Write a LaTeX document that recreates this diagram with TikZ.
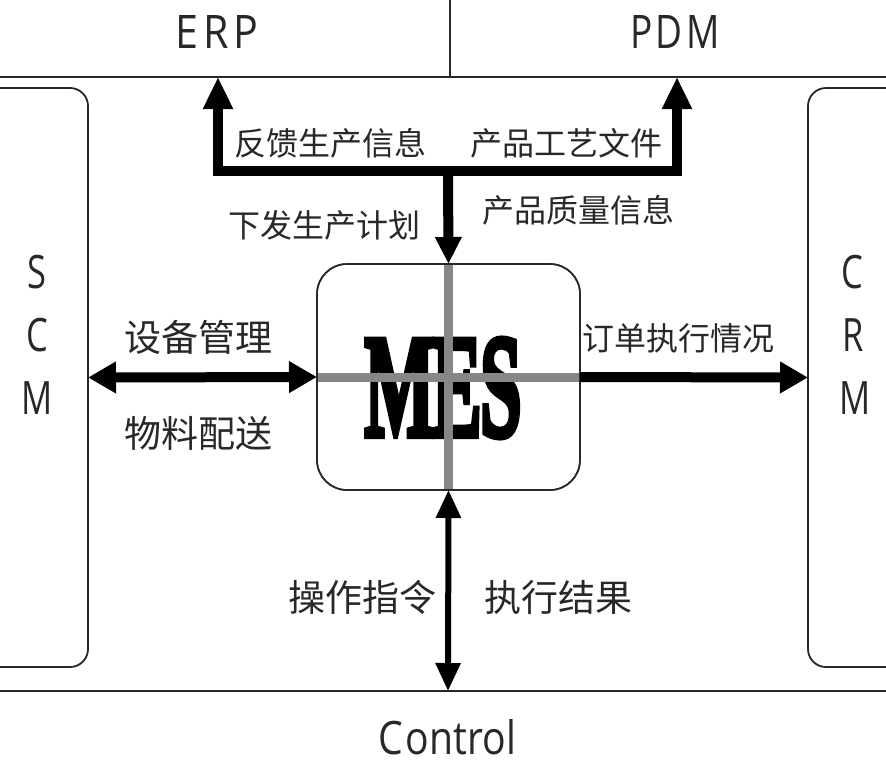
\documentclass[tikz,border=0pt]{standalone}
\usepackage{fontspec}
\setmainfont{Open Sans}
\newfontfamily\cjk{Noto Sans CJK SC}
\newfontfamily\mesfont[FakeBold=4.5]{Liberation Serif}
\usetikzlibrary{arrows.meta}
\definecolor{ink}{RGB}{40,40,40}
\definecolor{crossgrey}{RGB}{135,135,135}
\tikzset{
  frame/.style={draw=ink, line width=1.8pt},
  sidebox/.style={draw=ink, line width=1.8pt, rounded corners=18pt, minimum width=108pt, minimum height=579pt, inner sep=0pt, outer sep=0pt},
  mesbox/.style={draw=ink, line width=1.6pt, rounded corners=30pt, minimum width=263pt, minimum height=226pt, inner sep=0pt, outer sep=0pt},
  cnlab/.style={font=\cjk\fontsize{32}{32}\selectfont, text=ink, inner sep=0pt},
  cnbig/.style={font=\cjk\fontsize{37}{37}\selectfont, text=ink, inner sep=0pt},
  letter/.style={text=ink, inner sep=0pt},
  tbar/.style={draw=black, line width=10pt, line join=miter},
  sidebar/.style={draw=black, line width=10pt},
  botbar/.style={draw=black, line width=6pt},
  greyline/.style={draw=crossgrey, line width=9pt},
}
\newcommand{\sansletter}[1]{\scalebox{0.75}[1]{\fontsize{46}{46}\selectfont #1}}
\begin{document}
\begin{tikzpicture}[x=1pt,y=-1pt]
\useasboundingbox (0,0) rectangle (886,766);
\fill[white] (0,0) rectangle (886,766);

% frame lines
\coordinate (topL) at (0,77);
\coordinate (topR) at (886,77);
\coordinate (divT) at (450,0);
\coordinate (divB) at (450,77);
\coordinate (botL) at (0,691);
\coordinate (botR) at (886,691);
\draw[frame] (topL) -- (topR);
\draw[frame] (divT) -- (divB);
\draw[frame] (botL) -- (botR);

% top systems
\node[letter] (erp) at (217,32) {\resizebox{83pt}{33pt}{E\kern0.12em R\kern0.12em P}};
\node[letter] (pdm) at (675,32) {\resizebox{90pt}{33pt}{P\kern0.1em D\kern0.1em M}};
\coordinate (erpport) at (218,77);
\coordinate (pdmport) at (677,77);

% bottom system
\node[letter] (ctl) at (447,737) {\resizebox{138pt}{35pt}{C\kern0.08em ontrol}};
\coordinate (ctlport) at (448,691);

% side boxes
\node[sidebox] (scm) at (34,377.5) {};
\node[letter] (s1) at (37,272) {\sansletter{S}};
\node[letter] (s2) at (37,335) {\sansletter{C}};
\node[letter] (s3) at (37,398) {\sansletter{M}};

\node[sidebox] (crm) at (862,377.5) {};
\node[letter] (c1) at (852,272) {\sansletter{C}};
\node[letter] (c2) at (853,335) {\sansletter{R}};
\node[letter] (c3) at (855,398) {\sansletter{M}};

% MES box
\node[mesbox] (mes) at (448.5,377) {};
\node[inner sep=0pt] (mestext) at (443,388) {\resizebox{157pt}{97pt}{\mesfont\bfseries M\kern-0.04em E\kern-0.02em S}};
\draw[greyline] (mes.north) -- (mes.south);
\draw[greyline] (mes.west) -- (mes.east);
\node[mesbox, fill=none] at (mes.center) {};

% top T connector
\coordinate (tj) at (448,171);
\draw[tbar, -{Triangle[length=32pt,width=28pt]}] (tj) -| (erpport);
\draw[tbar, -{Triangle[length=32pt,width=28pt]}] (tj) -| (pdmport);
\draw[tbar, -{Triangle[length=27pt,width=25pt]}] (tj) -- (mes.north);

% side connectors
\draw[sidebar, {Triangle[length=28pt,width=30pt]}-{Triangle[length=28pt,width=30pt]}] (scm.east) -- (mes.west);
\draw[sidebar, -{Triangle[length=28pt,width=30pt]}] (mes.east) -- (crm.west);

% bottom connector
\draw[botbar, {Triangle[length=28pt,width=24pt]}-{Triangle[length=28pt,width=24pt]}] (mes.south) -- (ctlport);

% labels
\node[cnlab] (l1) at (330,143) {反馈生产信息};
\node[cnlab] (l2) at (566,143) {产品工艺文件};
\node[cnlab] (l3) at (324,225) {下发生产计划};
\node[cnlab] (l4) at (578,210) {产品质量信息};
\node[cnbig] (l5) at (198,337) {设备管理};
\node[cnbig] (l6) at (198,433) {物料配送};
\node[cnlab] (l7) at (678,338) {订单执行情况};
\node[cnbig] (l8) at (362,597) {操作指令};
\node[cnbig] (l9) at (558,597) {执行结果};
\end{tikzpicture}
\end{document}
